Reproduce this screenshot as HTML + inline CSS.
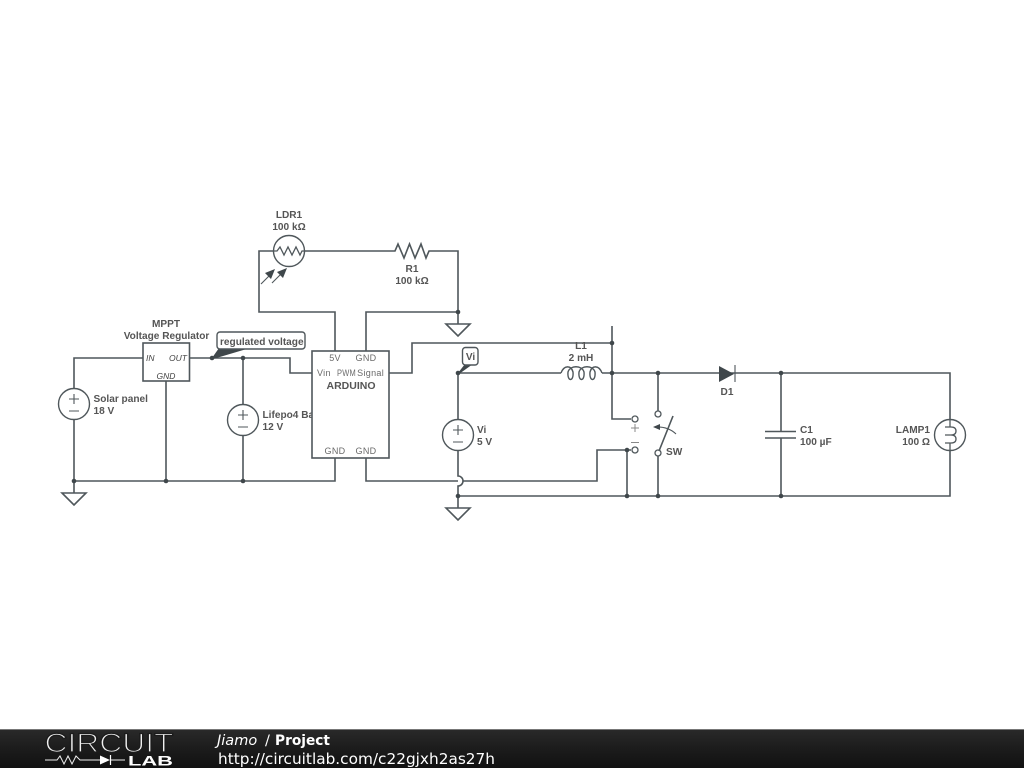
<!DOCTYPE html>
<html><head><meta charset="utf-8"><style>
html,body{margin:0;padding:0;background:#fff;width:1024px;height:768px;overflow:hidden}
svg{display:block;position:absolute;left:0;top:0}
.w{fill:none;stroke:#4f575b;stroke-width:1.6;stroke-linejoin:miter}
.s{fill:none;stroke:#4f575b;stroke-width:1.1}
.t{font-family:"Liberation Sans",sans-serif;font-weight:bold;font-size:10.1px;fill:#555}
.p{font-family:"Liberation Sans",sans-serif;font-size:9px;fill:#6a6a6a;letter-spacing:.3px}
.i{font-family:"Liberation Sans",sans-serif;font-size:8.5px;font-style:italic;fill:#444}
.m{text-anchor:middle}.e{text-anchor:end}
.f{font-family:"DejaVu Sans",sans-serif;fill:#fff}
</style></head><body>
<svg width="1024" height="768" viewBox="0 0 1024 768" xmlns="http://www.w3.org/2000/svg">
<defs><linearGradient id="g" x1="0" y1="0" x2="0" y2="1"><stop offset="0" stop-color="#2a2a2a"/><stop offset=".5" stop-color="#1c1c1c"/><stop offset="1" stop-color="#111"/></linearGradient></defs>

<!-- wires -->
<path class="w" d="M74 389V358H143M189 358H290V373H312M243 358V404M243 435V481M74 419V493M74 481H335V458M166 381V481"/>
<path class="w" d="M274 251H259V312H335V351M304 251H395L398 244L404 258L409.500 244L415 258L421 244L426 258L429 251H458V324M366 351V312H458"/>
<path class="w" d="M389 373H412V343H612M612 326V419H631"/>
<path class="w" d="M366 458V481H458M463 481H597V450H631"/>
<path class="w" d="M458 373V419M458 450V476A5 5 0 0 1 458 486V508M458 496H950V373H602M458 373H561"/>
<path class="s" style="stroke-width:1.400" d="M561 373C564 365 571 365 573 372C574 382 567 382 568 372C570 365 582 365 584 372C585 382 578 382 579 372C581 365 593 365 595 372C596 382 589 382 590 372C592 365 599 365 602 373"/>
<path class="w" d="M658 373V411M658 456V496M627 450V496M781 373V431M781 438V496"/>
<path class="w" d="M765 431.500H796M765 438H796" />

<!-- grounds -->
<path class="w" d="M62 493H86L74 505Z M446 324H470L458 336Z M446 508H470L458 520Z"/>

<!-- dots -->
<g fill="#3f474b">
<circle cx="74" cy="481" r="2.300"/><circle cx="166" cy="481" r="2.300"/><circle cx="243" cy="481" r="2.300"/>
<circle cx="212" cy="358" r="2.300"/><circle cx="243" cy="358" r="2.300"/>
<circle cx="458" cy="312" r="2.300"/><circle cx="612" cy="343" r="2.300"/><circle cx="612" cy="373" r="2.300"/>
<circle cx="458" cy="373" r="2.300"/><circle cx="658" cy="373" r="2.300"/><circle cx="781" cy="373" r="2.300"/>
<circle cx="458" cy="496" r="2.300"/><circle cx="627" cy="496" r="2.300"/><circle cx="658" cy="496" r="2.300"/><circle cx="781" cy="496" r="2.300"/><circle cx="627" cy="450" r="2.300"/>
</g>

<!-- sources -->
<g class="w" style="fill:#fff;stroke-width:1.400">
<circle cx="74" cy="404" r="15.500"/><circle cx="243" cy="420" r="15.500"/><circle cx="458" cy="435" r="15.500"/>
</g>
<path class="s" d="M69 399H79M74 394V404M69 411H79M238 415H248M243 410V420M238 427H248M453 430H463M458 425V435M453 442H463"/>

<!-- LDR -->
<circle class="w" style="fill:#fff;stroke-width:1.400" cx="289" cy="251" r="15.500"/>
<path class="s" style="stroke-width:1.300" d="M274 251H277L280 247L284 255L288 247L292 255L296 247L300 255L302 251H304"/>
<path class="s" d="M261 284L270 275M272 283L281 274"/>
<path fill="#3f474b" d="M275 269L271 279L265 273ZM287 268L283 278L277 272Z"/>

<!-- lamp -->
<circle class="w" style="fill:#fff;stroke-width:1.400" cx="950" cy="435" r="15.500"/>
<path class="s" style="stroke-width:1.300" d="M950 419V427M950 443V451M945 427H951Q956 427 956 431Q956 435 951 435H945M945 435H951Q956 435 956 439Q956 443 951 443H945"/>

<!-- diode -->
<path fill="#3f474b" d="M719 366L734 374L719 382Z"/>
<path class="s" d="M735 365V382"/>

<!-- switch -->
<g class="w" style="fill:#fff;stroke-width:1.300"><circle cx="635" cy="419" r="3"/><circle cx="635" cy="450" r="3"/><circle cx="658" cy="414" r="3"/><circle cx="658" cy="453" r="3"/></g>
<path class="w" d="M659 451L673 416"/>
<path class="s" d="M654 427Q668 426 676 434"/>
<path fill="#3f474b" d="M653 427L660 424L660 430Z"/>
<path d="M631 428H639M635 424V432M631 442.500H639" fill="none" stroke="#888" stroke-width="1"/>

<!-- MPPT -->
<rect class="w" style="fill:#fff" x="143" y="343" width="46.500" height="38"/>
<text class="i" x="146" y="361">IN</text><text class="i e" x="187" y="361">OUT</text><text class="i m" x="166" y="379">GND</text>

<!-- labels -->
<text class="t m" x="289" y="218">LDR1</text><text class="t m" x="289" y="230">100 kΩ</text>
<text class="t m" x="412" y="272">R1</text><text class="t m" x="412" y="284">100 kΩ</text>
<text class="t m" x="166" y="327">MPPT</text><text class="t m" x="166.500" y="339">Voltage Regulator</text>
<text class="t" x="93.500" y="402">Solar panel</text><text class="t" x="93.500" y="414">18 V</text>
<text class="t" x="262.500" y="418">Lifepo4 Battery</text><text class="t" x="262.500" y="430">12 V</text>
<text class="t" x="477" y="433">Vi</text><text class="t" x="477" y="445">5 V</text>
<text class="t m" x="581" y="349">L1</text><text class="t m" x="581" y="361">2 mH</text>
<text class="t m" x="727" y="395">D1</text>
<text class="t" x="800" y="433">C1</text><text class="t" x="800" y="445">100 µF</text>
<text class="t e" x="930" y="433">LAMP1</text><text class="t e" x="930" y="445">100 Ω</text>
<text class="t" x="666" y="455">SW</text>

<!-- Arduino on top of clipped text -->
<rect class="w" style="fill:#fff" x="312" y="351" width="77" height="107"/>
<text class="p m" x="335" y="361">5V</text><text class="p m" x="366" y="361">GND</text>
<text class="p" x="317" y="376">Vin</text><text class="p" x="337" y="376" textLength="19" lengthAdjust="spacingAndGlyphs">PWM</text><text class="p e" x="384" y="376">Signal</text>
<text class="t m" x="351" y="389" style="font-size:10.500px">ARDUINO</text>
<text class="p m" x="335" y="454">GND</text><text class="p m" x="366" y="454">GND</text>

<!-- callouts -->
<path fill="#3f474b" d="M212 358L219 348H250L213 359Z"/>
<rect x="217" y="332" width="88" height="17" rx="3" fill="#fff" stroke="#4f575b" stroke-width="1.400"/>
<text class="t" x="220" y="345">regulated voltage</text>
<path fill="#3f474b" d="M458 373L465 364H473L459 374Z"/>
<rect x="462.500" y="347.500" width="15.500" height="17.500" rx="3" fill="#fff" stroke="#4f575b" stroke-width="1.400"/>
<text class="t m" x="470.500" y="360">Vi</text>

<!-- footer -->
<rect x="0" y="729" width="1024" height="39" fill="url(#g)"/>
<rect x="0" y="729" width="1024" height="1" fill="#777"/>
<text x="44.500" y="752" textLength="129" lengthAdjust="spacingAndGlyphs" style="font-family:'Liberation Sans',sans-serif;font-size:27px" fill="#f0f0f0" stroke="#1c1c1c" stroke-width="1.300">CIRCUIT</text>
<path d="M45 760H57L60 756L64 764L68 756L72 764L76 756L80 760H100M110 760H125" fill="none" stroke="#eee" stroke-width="1"/>
<path d="M100 755.500L110 760L100 764.500Z" fill="#fff"/><path d="M110.500 755V765" stroke="#fff" stroke-width="1.200"/>
<text x="128" y="765.500" textLength="45" lengthAdjust="spacingAndGlyphs" style="font-family:'Liberation Sans',sans-serif;font-size:14px;font-weight:bold" fill="#fff">LAB</text>
<text class="f" x="217" y="745" style="font-size:14.500px;font-style:italic">Jiamo</text>
<text class="f" x="265" y="745" style="font-size:14.500px">/</text>
<text class="f" x="275" y="745" style="font-size:14.500px;font-weight:bold" textLength="55" lengthAdjust="spacingAndGlyphs">Project</text>
<text class="f" x="218" y="764" textLength="277" lengthAdjust="spacingAndGlyphs" style="font-size:15px">http://circuitlab.com/c22gjxh2as27h</text>
</svg>
</body></html>
